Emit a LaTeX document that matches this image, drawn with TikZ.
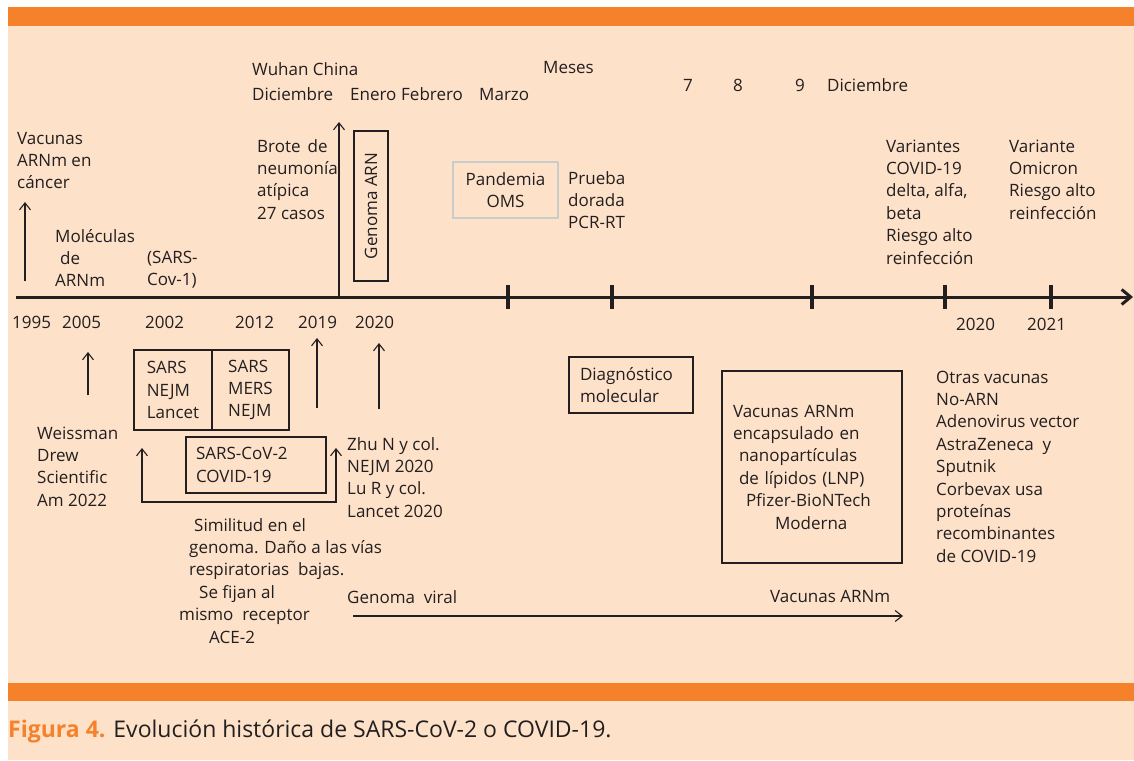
\documentclass[tikz,border=0pt]{standalone}
\usepackage{fontspec}
\setmainfont{Open Sans}
\usetikzlibrary{arrows.meta}
\definecolor{panelpeach}{HTML}{FDE1C9}
\definecolor{bandorange}{HTML}{F5822A}
\definecolor{inkdark}{HTML}{231F20}
\definecolor{omsgray}{HTML}{C8CCCA}
\begin{document}
\begin{tikzpicture}[x=1pt,y=-1pt]

    \tikzset{
      txt/.style={inner sep=0pt, anchor=base west, align=left, text=inkdark,
        font=\fontsize{17}{22.4}\selectfont},
      yearlbl/.style={txt},
      boxed/.style={txt, draw=inkdark, line width=2.6pt, anchor=center},
      thinarrow/.style={draw=inkdark, line width=1.1pt,
        -{Straight Barb[length=7pt,width=11pt]}},
    }
    \useasboundingbox (0,0) rectangle (1134,760);
    \fill[white] (0,0) rectangle (1134,760);
    \fill[panelpeach] (8,7) rectangle (1134,760);
    \fill[bandorange] (8,7) rectangle (1134,26);
    \fill[bandorange] (8,683) rectangle (1134,701);
    % eje del tiempo (base = ultima linea del texto)
    \coordinate (axStart) at (16,297);
    \coordinate (axEnd) at (1133,297);
    \draw[inkdark, line width=3pt, -{Straight Barb[length=9pt,width=15pt]}] (axStart) -- (axEnd);
    \foreach \tx in {508,612,812,945,1051}
      \draw[inkdark, line width=4pt] (\tx,285) -- (\tx,309);
    \node[yearlbl] (y1995) at (12,328) {1995};
    \node[yearlbl] (y2005) at (62,328) {2005};
    \node[yearlbl] (y2002) at (145,328) {2002};
    \node[yearlbl] (y2012) at (235,328) {2012};
    \node[yearlbl] (y2019) at (298,328) {2019};
    \node[yearlbl] (y2020a) at (355,328) {2020};
    \node[yearlbl] (y2020b) at (956,330) {2020};
    \node[yearlbl] (y2021) at (1027,330) {2021};
    % arriba del eje
    \node[txt] (wuhan) at (252,75) {Wuhan China};
    \node[txt] (dic19) at (252,100) {Diciembre};
    \node[txt] (enero) at (350,100) {Enero};
    \node[txt] (febrero) at (401,100) {Febrero};
    \node[txt] (marzo) at (479,100) {Marzo};
    \node[txt] (meses) at (543,74) {Meses};
    \node[txt] (mes7) at (683,91) {7};
    \node[txt] (mes8) at (733,91) {8};
    \node[txt] (mes9) at (795,91) {9};
    \node[txt] (dic20) at (827,91) {Diciembre};
    \node[txt] (vacCancer) at (17,188.8) {Vacunas\\ARNm en\\cáncer};
    \coordinate (vacFoot) at (25,281);
    \coordinate (vacTip) at (25,202);
    \draw[thinarrow] (vacFoot) -- (vacTip);
    \node[txt] (molArnm) at (55,286.8) {Moléculas\\\hspace*{5pt}de\\ARNm};
    \node[txt] (sarsCov1) at (147,285.4) {(SARS-\\Cov-1)};
    \node[txt] (brote) at (257,219.2) {Brote\hspace{7pt}de\\neumonía\\atípica\\27 casos};
    \coordinate (wuhanFoot) at (339,297);
    \coordinate (wuhanTip) at (339,122);
    \draw[thinarrow] (wuhanFoot) -- (wuhanTip);
    \node[boxed, rotate=90, minimum width=150, minimum height=34] (genomaArn) at (371,206) {Genoma ARN};
    \node[txt, anchor=center, align=center, draw=omsgray, line width=2pt,
      minimum width=105, minimum height=56] (pandemia) at (505.5,190) {Pandemia\\OMS};
    \node[txt] (prueba) at (568,228.8) {Prueba\\dorada\\PCR-RT};
    \node[txt] (variantes) at (886,264) {Variantes\\COVID-19\\delta, alfa,\\beta\\Riesgo alto\\reinfección};
    \node[txt] (omicron) at (1009,219.2) {Variante\\Omicron\\Riesgo alto\\reinfección};
    % debajo del eje
    \coordinate (weissFoot) at (88,395);
    \coordinate (weissTip) at (88,352);
    \draw[thinarrow] (weissFoot) -- (weissTip);
    \node[txt] (weissman) at (37,506.2) {Weissman\\Drew\\Scientific\\Am 2022};
    \node[boxed, minimum width=78, minimum height=80] (sarsLancet) at (173,390) {SARS\\NEJM\\Lancet};
    \node[boxed, minimum width=77, minimum height=80] (sarsMers) at (250.5,390) {SARS\\MERS\\NEJM};
    \node[boxed, minimum width=140, minimum height=56, text width=120, inner xsep=10pt] (sarsCov2) at (256,465) {SARS-CoV-2\\COVID-19};
    \coordinate (y19Foot) at (317,408);
    \coordinate (y19Tip) at (317,338);
    \draw[thinarrow] (y19Foot) -- (y19Tip);
    \coordinate (y20Foot) at (379,409);
    \coordinate (y20Tip) at (379,343);
    \draw[thinarrow] (y20Foot) -- (y20Tip);
    \coordinate (linkL) at (142,448);
    \coordinate (linkR) at (336,448);
    \draw[thinarrow, {Straight Barb[length=7pt,width=11pt]}-{Straight Barb[length=7pt,width=11pt]}]
      (linkL) -- ++(0,54) -| (linkR);
    \node[txt] (zhu) at (347,517.2) {Zhu N y col.\\NEJM 2020\\Lu R y col.\\Lancet 2020};
    \node[txt] (similitud) at (179,643) {\hspace*{15pt}Similitud en el\\\hspace*{10pt}genoma. Daño a las vías\\\hspace*{10pt}respiratorias\ \ bajas.\\\hspace*{20pt}Se fijan al\\mismo\ \ receptor\\\hspace*{30pt}ACE-2};
    \node[boxed, minimum width=124, minimum height=56, text width=102, inner xsep=11pt] (diagnostico) at (631,385) {Diagnóstico\\molecular};
    \node[boxed, minimum width=180, minimum height=192, text width=158, inner xsep=11pt] (vacLnp) at (812,467)
      {Vacunas ARNm\\encapsulado en\\\hspace*{6pt}nanopartículas\\\hspace*{6pt}de lípidos (LNP)\\\hspace*{13pt}Pfizer-BioNTech\\\hspace*{42pt}Moderna};
    \node[txt] (otras) at (936,562.2) {Otras vacunas\\No-ARN\\Adenovirus vector\\AstraZeneca\ \ y\\Sputnik\\Corbevax usa\\proteínas\\recombinantes\\de COVID-19};
    \node[txt] (genViral) at (347,603) {Genoma\ \ viral};
    \node[txt] (vacArnm) at (770,602) {Vacunas ARNm};
    \coordinate (viralStart) at (353,616);
    \coordinate (viralEnd) at (903,616);
    \draw[thinarrow] (viralStart) -- (viralEnd);
    % leyenda
    \node[txt, font=\fontsize{23}{27}\selectfont] (caption) at (8,737)
      {\textcolor{bandorange}{\bfseries Figura 4.} Evolución histórica de SARS-CoV-2 o COVID-19.};

\end{tikzpicture}
\end{document}
